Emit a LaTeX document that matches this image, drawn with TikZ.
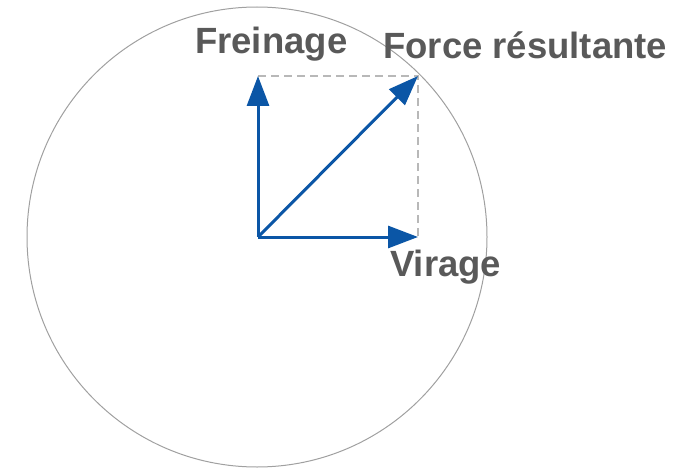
\documentclass[tikz,border=0pt]{standalone}
\usepackage{fontspec}
\setmainfont{Liberation Sans}
\usetikzlibrary{arrows.meta}
\definecolor{vecblue}{HTML}{0B56A6}
\definecolor{labgray}{HTML}{595959}
\definecolor{circgray}{HTML}{A0A0A0}
\definecolor{dashgray}{HTML}{B8B8B8}
\begin{document}
\begin{tikzpicture}[x=1pt,y=-1pt,
  vec/.style={draw=vecblue, line width=3pt, -{Triangle[length=30pt,width=22pt]}},
  guide/.style={draw=dashgray, line width=1.5pt, dash pattern=on 8pt off 5pt},
  lab/.style={anchor=base west, inner sep=0pt, text=labgray, font=\fontsize{36.5}{40}\selectfont\bfseries}]
\useasboundingbox (0,0) rectangle (679,468);
\draw[circgray, line width=1pt] (257,237) circle [radius=230];
\coordinate (O) at (258,237);
\coordinate (F) at (258,76);
\coordinate (V) at (418,237);
\coordinate (R) at (418,76);
\draw[guide] (F) -- (R) -- (V);
\draw[vec] (O) -- (F);
\draw[vec] (O) -- (V);
\draw[vec] (O) -- (R);
\node[lab] (lf) at (195,54) {Freinage};
\node[lab] (lr) at (383,59) {Force résultante};
\node[lab] (lv) at (390,276) {Virage};
\end{tikzpicture}
\end{document}
